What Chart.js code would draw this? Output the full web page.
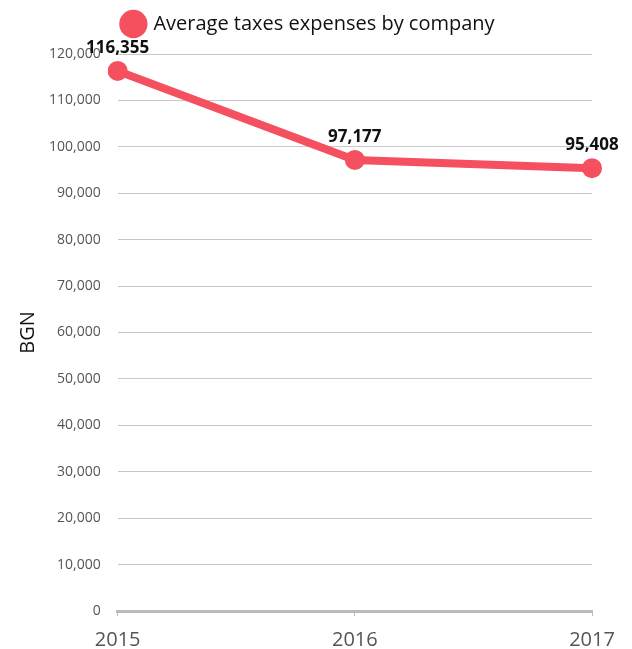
<!DOCTYPE html>
<html>
<head>
<meta charset="utf-8">
<script src="https://cdn.jsdelivr.net/npm/chart.js@4"></script>
<style>
html,body{margin:0;padding:0;background:#fff;}
#wrap{width:632px;height:649px;position:relative;}
</style>
</head>
<body>
<div id="wrap"><canvas id="c"></canvas></div>
<script>
const categories = ["2015", "2016", "2017"];
const seriesName = "Average taxes expenses by company";
const seriesValues = [116355, 97177, 95408];
const yTitle = "BGN";

const FONT = "'Open Sans', 'Noto Sans', sans-serif";
const RED = "#f5505f";

const labelPlugin = {
  id: 'valueLabels',
  afterDatasetsDraw(chart) {
    const ctx = chart.ctx;
    const meta = chart.getDatasetMeta(0);
    ctx.save();
    ctx.font = "bold 17px " + FONT;
    ctx.fillStyle = "#111";
    ctx.textAlign = "center";
    ctx.textBaseline = "middle";
    meta.data.forEach((pt, i) => {
      ctx.fillText(seriesValues[i].toLocaleString('en-US'), pt.x, pt.y - 23);
    });
    ctx.restore();
  }
};

const legendSpace = {
  id: 'legendSpace',
  beforeInit(chart) {
    const lg = chart.legend;
    if (!lg) return;
    const orig = lg.fit;
    lg.fit = function () {
      orig.call(this);
      this.height += 11;
    };
  },
  afterLayout(chart) {
    const lg = chart.legend;
    if (!lg) return;
    lg.left += 5;
    lg.right += 5;
    lg.top += 1;
    lg.bottom += 1;
  }
};

new Chart(document.getElementById('c'), {
  type: 'line',
  data: {
    labels: categories,
    datasets: [{
      label: seriesName,
      data: seriesValues,
      borderColor: RED,
      backgroundColor: RED,
      borderWidth: 8,
      pointRadius: 10,
      pointHoverRadius: 10,
      pointBackgroundColor: RED,
      pointBorderColor: RED,
      pointBorderWidth: 0,
      tension: 0,
      fill: false
    }]
  },
  options: {
    responsive: true,
    maintainAspectRatio: false,
    animation: false,
    layout: { padding: { left: 16, right: 40, top: 1, bottom: 0 } },
    plugins: {
      legend: {
        display: true,
        position: 'top',
        labels: {
          usePointStyle: true,
          pointStyle: 'circle',
          boxWidth: 22,
          boxHeight: 22,
          color: '#111',
          font: { family: FONT, size: 20 },
          padding: 12
        }
      },
      tooltip: { enabled: false }
    },
    scales: {
      x: {
        offset: false,
        afterFit(scale) { scale.height = 38; },
        grid: { display: true, drawOnChartArea: false, drawTicks: true, tickLength: 5, color: '#bbb' },
        border: { display: true, color: '#bbb', width: 3 },
        ticks: { color: '#555', font: { family: FONT, size: 20 }, padding: 12 }
      },
      y: {
        min: 0,
        max: 120000,
        ticks: {
          stepSize: 10000,
          color: '#555',
          font: { family: FONT, size: 14 },
          padding: 9,
          callback: v => v.toLocaleString('en-US')
        },
        grid: { color: '#c8c8c8', lineWidth: 1, drawTicks: true, tickLength: 8, tickColor: '#fff' },
        border: { display: false },
        title: { display: true, text: yTitle, color: '#111', font: { family: FONT, size: 20 }, padding: 0 }
      }
    }
  },
  plugins: [labelPlugin, legendSpace]
});
</script>
</body>
</html>
